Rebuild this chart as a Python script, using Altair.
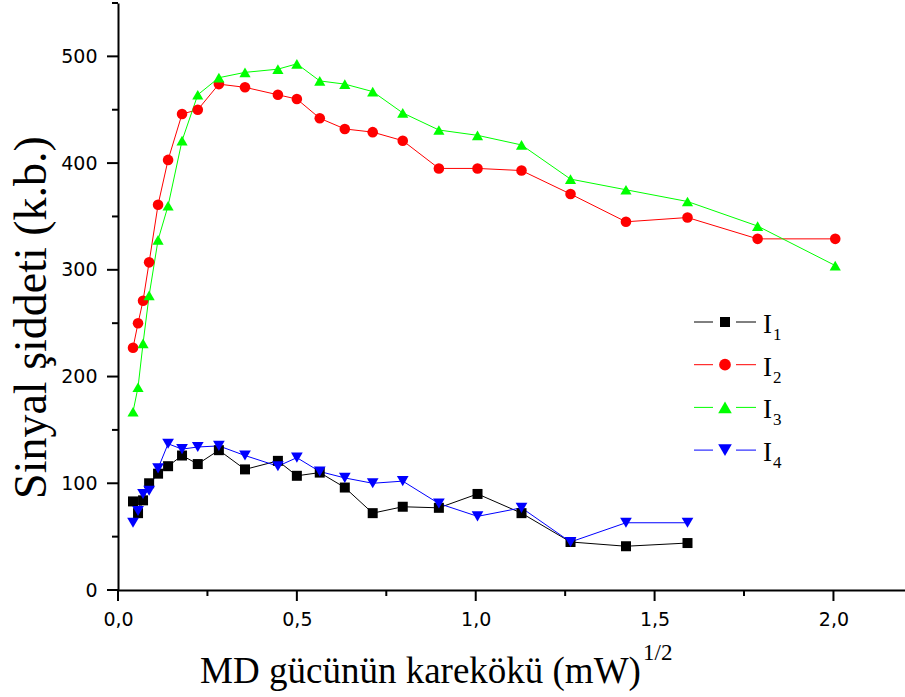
import altair as alt
import pandas as pd

# ---- data ----
x_vals = [0.042, 0.056, 0.070, 0.087, 0.112, 0.140, 0.179, 0.223, 0.282, 0.355,
          0.447, 0.500, 0.564, 0.634, 0.712, 0.796, 0.897, 1.005, 1.128, 1.265,
          1.420, 1.592, 1.788, 2.005]
i1 = [83, 72, 84, 100, 109, 116, 126, 118, 131, 113, 121, 107, 110, 96, 72, 78,
      77, 90, 72, 45, 41, 44]
i2 = [227, 250, 271, 307, 361, 403, 446, 450, 474, 471, 464, 460, 442, 432, 429,
      421, 395, 395, 393, 371, 345, 349, 329, 329]
i3 = [167, 190, 231, 276, 328, 360, 421, 464, 480, 485, 488, 493, 477, 474, 467,
      447, 431, 426, 417, 385, 375, 364, 341, 304]
i4 = [63, 74, 90, 93, 114, 137, 132, 134, 135, 126, 116, 124, 111, 105, 100, 102,
      81, 69, 77, 45, 63, 63]

series_names = ["I1", "I2", "I3", "I4"]
series_values = [i1, i2, i3, i4]
colors = ["#000000", "#ff0000", "#00ff00", "#0000ff"]
shapes = ["square", "circle", "triangle-up", "triangle-down"]
sizes = [100, 137, 185, 185]

x_major = [0, 0.5, 1.0, 1.5, 2.0]
x_minor = [0.25, 0.75, 1.25, 1.75]
y_major = [0, 100, 200, 300, 400, 500]
y_minor = [50, 150, 250, 350, 450, 550]

rows = []
for name, vals in zip(series_names, series_values):
    for xv, yv in zip(x_vals, vals):
        rows.append({"series": name, "x": xv, "y": yv})
df = pd.DataFrame(rows)

serif = "Liberation Serif"
sans = "DejaVu Sans"

W, H = 787, 587
x_scale = alt.Scale(domain=[0, 2.2], nice=False, zero=False)
y_scale = alt.Scale(domain=[0, 550], nice=False)
color_scale = alt.Scale(domain=series_names, range=colors)

x_axis = alt.Axis(
    orient="bottom",
    values=x_major,
    labelExpr="replace(format(datum.value, '.1f'), '.', ',')",
    ticks=False,
    labelPadding=20,
    labelFlush=False,
    labelOverlap=False,
    grid=False,
    title="MD gücünün karekökü (mW)",
    titleFont=serif, titleFontSize=37, titleFontWeight="normal", titleColor="black",
    titleX=302, titleY=92, titleAlign="center", titleBaseline="alphabetic",
)
y_axis = alt.Axis(
    orient="left",
    values=y_major,
    format="d",
    ticks=False,
    labelPadding=21,
    labelFlush=False,
    labelOverlap=False,
    grid=False,
    title="Sinyal şiddeti (k.b.)",
    titleFont=serif, titleFontSize=46, titleFontWeight="normal", titleColor="black",
    titleAngle=270, titleX=-73, titleY=314, titleAlign="center", titleBaseline="alphabetic",
)

base = alt.Chart(df)
lines = base.mark_line(strokeWidth=1).encode(
    x=alt.X("x:Q", scale=x_scale, axis=x_axis),
    y=alt.Y("y:Q", scale=y_scale, axis=y_axis),
    color=alt.Color("series:N", scale=color_scale, legend=None),
    detail="series:N",
)
points = base.mark_point(filled=True, opacity=1).encode(
    x=alt.X("x:Q", scale=x_scale, axis=None),
    y=alt.Y("y:Q", scale=y_scale, axis=None),
    color=alt.Color("series:N", scale=color_scale, legend=None),
    shape=alt.Shape("series:N", scale=alt.Scale(domain=series_names, range=shapes), legend=None),
    size=alt.Size("series:O", scale=alt.Scale(domain=series_names, range=sizes), legend=None),
)

layers = [lines, points]

# ---- outward axis ticks placed through the shared scales (major 11 px, minor 6 px) ----
for vals, length in [(x_major, 11), (x_minor, 6)]:
    layers.append(alt.Chart(pd.DataFrame({"v": vals})).mark_tick(
        color="black", orient="vertical", thickness=2, size=length, opacity=1,
        clip=False).encode(
        x=alt.X("v:Q", scale=x_scale, axis=None),
        y=alt.value(H + length / 2)))
for vals, length in [(y_major, 11), (y_minor, 6)]:
    layers.append(alt.Chart(pd.DataFrame({"v": vals})).mark_tick(
        color="black", orient="horizontal", thickness=2, size=length, opacity=1,
        clip=False).encode(
        y=alt.Y("v:Q", scale=y_scale, axis=None),
        x=alt.value(-length / 2)))

# ---- Origin-style legend (pixel offsets inside the plot area) ----
row_step = 42.7
for r, (name, col, shp, sz) in enumerate(zip(series_names, colors, shapes, sizes)):
    cy = 319 + row_step * r
    one = alt.Chart(pd.DataFrame({"series": [name]}))
    layers.append(one.mark_rule(strokeWidth=1, color=col).encode(
        x=alt.value(576), x2=alt.value(595), y=alt.value(cy)))
    layers.append(one.mark_rule(strokeWidth=1, color=col).encode(
        x=alt.value(618), x2=alt.value(638), y=alt.value(cy)))
    layers.append(one.mark_point(filled=True, opacity=1, color=col, shape=shp, size=sz).encode(
        x=alt.value(607), y=alt.value(cy)))
    layers.append(one.mark_text(font=serif, fontSize=27, align="left", baseline="alphabetic",
                                color="black").encode(
        x=alt.value(645), y=alt.value(cy + 11), text=alt.value(name[0])))
    layers.append(one.mark_text(font=serif, fontSize=17, align="left", baseline="alphabetic",
                                color="black").encode(
        x=alt.value(655), y=alt.value(cy + 18), text=alt.value(name[1:])))

# superscript of the x-axis title
sup = alt.Chart(pd.DataFrame({"t": ["1/2"]})).mark_text(
    font=serif, fontSize=23, align="left", baseline="alphabetic", color="black"
).encode(x=alt.value(525), y=alt.value(657), text="t:N")
layers.append(sup)

chart = alt.layer(*layers).resolve_axis(x="independent", y="independent").properties(
    width=W,
    height=H,
    autosize=alt.AutoSizeParams(type="none"),
    padding={"left": 118, "top": 3, "right": 0, "bottom": 107},
    background="white",
).configure_view(stroke=None).configure_axis(
    domainColor="black", domainWidth=2, grid=False,
    labelFont=sans, labelFontSize=19, labelColor="black",
)

chart.save("out.html", embed_options={"renderer": "svg", "actions": False})
